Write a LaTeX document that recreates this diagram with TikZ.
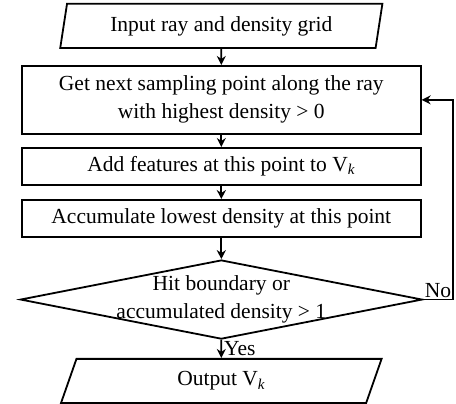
\documentclass[tikz,border=0pt]{standalone}
\usepackage{fontspec}
\setmainfont{Liberation Serif}
\usetikzlibrary{shapes.geometric,arrows.meta,positioning}

\begin{document}
\begin{tikzpicture}[
    font=\fontsize{21.5}{28}\selectfont,
    line width=1.8pt,
    >={Stealth[length=9pt,width=9pt]},
    paso/.style={draw, rectangle, minimum width=14.02cm, minimum height=1.30cm, inner sep=0pt, align=center},
    datos/.style={draw, trapezium, trapezium left angle=76, trapezium right angle=104,
        trapezium stretches=true, minimum width=11.35cm, minimum height=1.55cm, inner sep=0pt},
    pregunta/.style={draw, diamond, shape aspect=5, inner sep=-8pt,
        minimum width=14.13cm, minimum height=2.78cm, align=center}
]

% Marco fijo del dibujo
\useasboundingbox (0,0) rectangle (16.03,-14.2);

% 1. Entrada
\node[datos] (input) at (7.78,-0.91) {Input ray and density grid};

% 2. Bucle de muestreo
\node[paso, minimum height=2.39cm] (sample) at (7.78,-3.51)
    {Get next sampling point along the ray\\with highest density > 0};
\node[paso] (features) at (7.78,-5.85) {Add features at this point to V\textsubscript{\textit{k}}};
\node[paso] (accum) at (7.78,-7.68) {Accumulate lowest density at this point};

% 3. Condicion de parada
\node[pregunta] (check) at (7.78,-10.53) {Hit boundary or\\accumulated density > 1};

% 4. Salida
\node[datos] (output) at (7.78,-13.39) {Output V\textsubscript{\textit{k}}};

% Flechas principales
\draw[->] (input) -- (sample);
\draw[->] (sample) -- (features);
\draw[->] (features) -- (accum);
\draw[->] (accum) -- (check);
\draw[->] (check) -- node[right, inner sep=2pt] {Yes} (output);

% Vuelta atras (No)
\coordinate (loop_x) at (15.92,0);
\draw[->] (check.east) -- node[above, inner sep=1pt] {No} (check.east -| loop_x) |- (sample.east);

\end{tikzpicture}
\end{document}
